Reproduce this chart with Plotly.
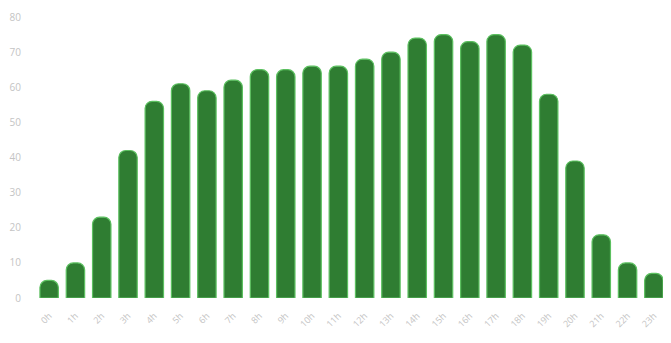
import plotly.graph_objects as go

# --- DATA ---
hours = [f"{h}h" for h in range(24)]
values = [5, 10, 23, 42, 56, 61, 59, 62, 65, 65, 66, 66,
          68, 70, 74, 75, 73, 75, 72, 58, 39, 18, 10, 7]
y_ticks = [0, 10, 20, 30, 40, 50, 60, 70, 80]

fig = go.Figure(go.Bar(
    x=hours, y=values,
    marker=dict(color="#2f7d32", line=dict(color="#5cc060", width=1.2),
                cornerradius=7),
))

# page adds ~8px body margin, so margins are shifted to compensate
fig.update_layout(
    width=671, height=343,
    margin=dict(l=28, r=12, t=9, b=53, autoexpand=False),
    plot_bgcolor="white", paper_bgcolor="white",
    bargap=0.3, showlegend=False,
    font=dict(family="Open Sans", color="#c4c4c4", size=10),
)
fig.update_xaxes(tickangle=-45, showgrid=False, showline=False, ticks="",
                 ticklabelstandoff=10, tickfont=dict(size=9, color="#c4c4c4"))
fig.update_yaxes(range=[0, 80], tickvals=y_ticks, showgrid=False, zeroline=False,
                 showline=False, ticks="", ticklabelstandoff=14,
                 tickfont=dict(size=10, color="#c4c4c4"))

fig.write_html("out.html")
